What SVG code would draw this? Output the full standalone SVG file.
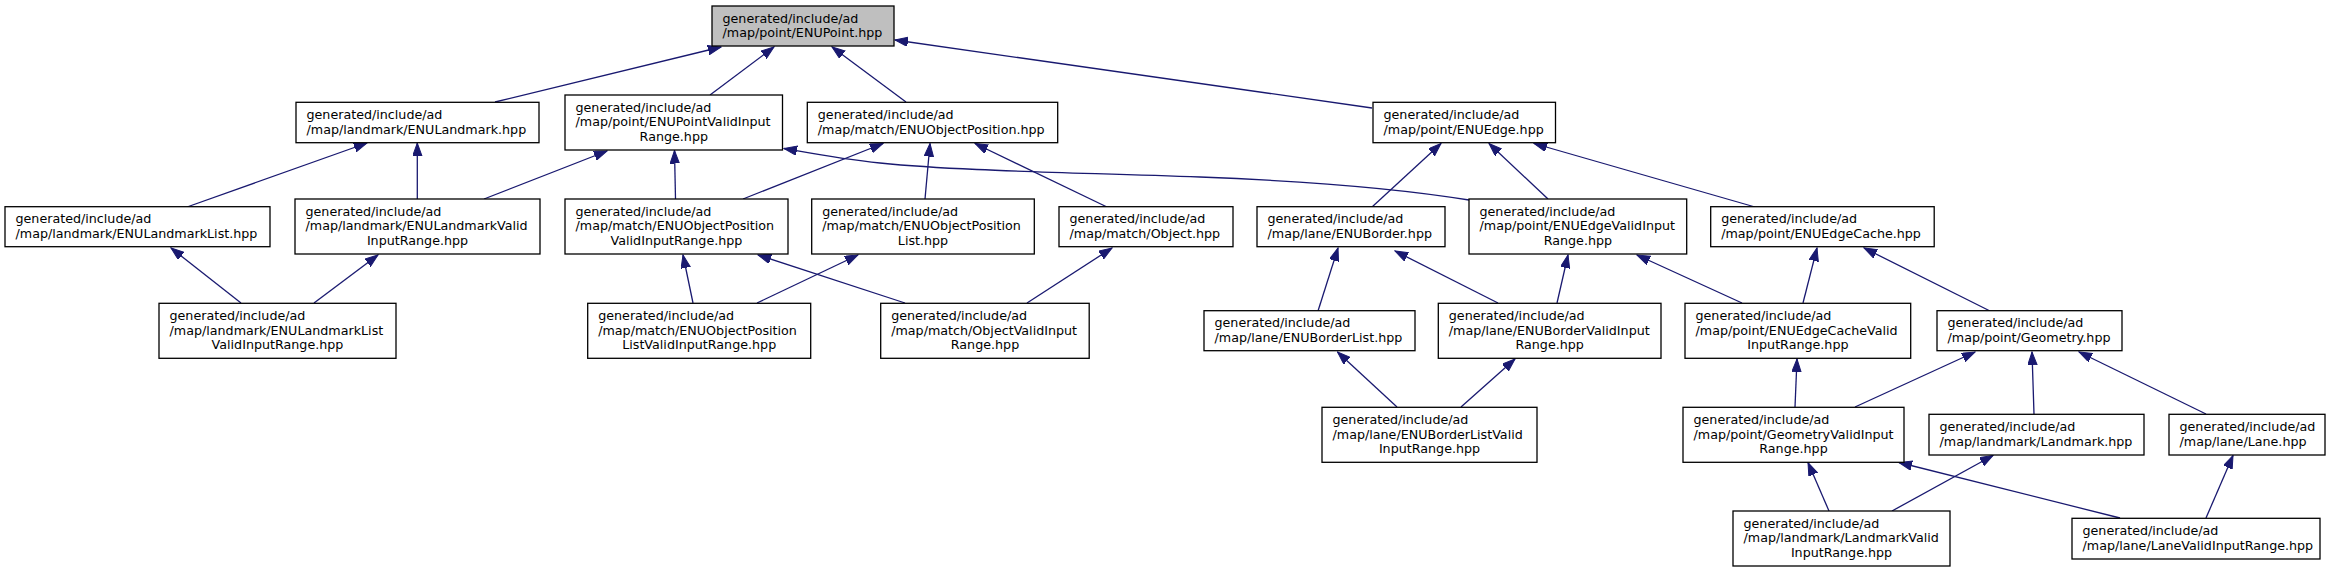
<svg xmlns="http://www.w3.org/2000/svg" width="2331" height="572" viewBox="0 0 2331 572">
<style>
.n rect{fill:#fff;stroke:#000;stroke-width:1.3}
.n.root rect{fill:#bfbfbf}
.n text{font-family:"DejaVu Sans",sans-serif;font-size:12.7px;fill:#000}
.n text.c{text-anchor:middle}
.e path{fill:none;stroke:#191970;stroke-width:1.3;marker-end:url(#ah)}
</style>
<defs>
<marker id="ah" markerUnits="userSpaceOnUse" markerWidth="14" markerHeight="10" refX="13" refY="4.7" orient="auto">
<path d="M0,0 L13,4.7 L0,9.4 z" fill="#191970" stroke="#191970" stroke-width="1"/>
</marker>
</defs>
<rect width="2331" height="572" fill="#fff"/>
<g id="edges" class="e">
<path d="M495,102 L721,47"/>
<path d="M710,95 L774,47"/>
<path d="M906,102 L832,47"/>
<path d="M1372,108 L895,40"/>
<path d="M187,207 L367,143"/>
<path d="M417.3,199 L417.3,143"/>
<path d="M484,199 L607,151"/>
<path d="M675.5,199 L674.5,150.5"/>
<path d="M743,199 L883,143.5"/>
<path d="M925,199 L930,143.5"/>
<path d="M1107,207 L975,143.5"/>
<path d="M1469,200 C1420,192 1330,182 1200,177 C1060,172 960,171 880,163 C840,159 810,153 784,148.5"/>
<path d="M1372,207 L1441,143.5"/>
<path d="M1548,199 L1489,143.5"/>
<path d="M1755,207 L1534,143.5"/>
<path d="M241,303 L171,248"/>
<path d="M314,303 L378,255"/>
<path d="M693,303 L683,255"/>
<path d="M757,303 L858,255"/>
<path d="M905,303 L758,255"/>
<path d="M1027,303 L1112,248"/>
<path d="M1318,311 L1338,248"/>
<path d="M1498,303 L1395,251"/>
<path d="M1557,303 L1568,255"/>
<path d="M1742,303 L1637,255"/>
<path d="M1803,303 L1817,248"/>
<path d="M1990,311 L1864,248"/>
<path d="M1397,407 L1337.5,352"/>
<path d="M1461,407 L1515,359"/>
<path d="M1795,407 L1797,359"/>
<path d="M1855,407 L1975,352"/>
<path d="M2034,414 L2032,352"/>
<path d="M2206,414 L2079,352"/>
<path d="M1829,511 L1808,462.5"/>
<path d="M1892,511 L1993,455.5"/>
<path d="M2120,518 L1899,462.5"/>
<path d="M2206,518 L2233,455.5"/>
</g>
<g id="n1" class="n root"><rect x="712" y="6" width="182" height="40"/><text x="722.5" y="22.7">generated/include/ad</text><text x="722.5" y="37.3">/map/point/ENUPoint.hpp</text></g>
<g id="n2" class="n"><rect x="296" y="102.3" width="243" height="40.4"/><text x="306.5" y="119">generated/include/ad</text><text x="306.5" y="133.6">/map/landmark/ENULandmark.hpp</text></g>
<g id="n3" class="n"><rect x="565" y="95" width="217.5" height="55"/><text x="575.5" y="111.7">generated/include/ad</text><text x="575.5" y="126.3">/map/point/ENUPointValidInput</text><text class="c" x="673.8" y="140.9">Range.hpp</text></g>
<g id="n4" class="n"><rect x="807.3" y="102.3" width="250.4" height="40.4"/><text x="817.8" y="119">generated/include/ad</text><text x="817.8" y="133.6">/map/match/ENUObjectPosition.hpp</text></g>
<g id="n5" class="n"><rect x="1373" y="102.3" width="182.5" height="40.4"/><text x="1383.5" y="119">generated/include/ad</text><text x="1383.5" y="133.6">/map/point/ENUEdge.hpp</text></g>
<g id="n6" class="n"><rect x="5" y="206.7" width="265" height="40"/><text x="15.5" y="223.4">generated/include/ad</text><text x="15.5" y="238">/map/landmark/ENULandmarkList.hpp</text></g>
<g id="n7" class="n"><rect x="295" y="199" width="245" height="55"/><text x="305.5" y="215.7">generated/include/ad</text><text x="305.5" y="230.3">/map/landmark/ENULandmarkValid</text><text class="c" x="417.5" y="244.9">InputRange.hpp</text></g>
<g id="n8" class="n"><rect x="565" y="199" width="223" height="55"/><text x="575.5" y="215.7">generated/include/ad</text><text x="575.5" y="230.3">/map/match/ENUObjectPosition</text><text class="c" x="676.5" y="244.9">ValidInputRange.hpp</text></g>
<g id="n9" class="n"><rect x="811.7" y="199" width="222.6" height="55"/><text x="822.2" y="215.7">generated/include/ad</text><text x="822.2" y="230.3">/map/match/ENUObjectPosition</text><text class="c" x="923" y="244.9">List.hpp</text></g>
<g id="n10" class="n"><rect x="1059" y="206.7" width="174" height="40"/><text x="1069.5" y="223.4">generated/include/ad</text><text x="1069.5" y="238">/map/match/Object.hpp</text></g>
<g id="n11" class="n"><rect x="1257" y="206.7" width="188" height="40"/><text x="1267.5" y="223.4">generated/include/ad</text><text x="1267.5" y="238">/map/lane/ENUBorder.hpp</text></g>
<g id="n12" class="n"><rect x="1469" y="199" width="217.7" height="55"/><text x="1479.5" y="215.7">generated/include/ad</text><text x="1479.5" y="230.3">/map/point/ENUEdgeValidInput</text><text class="c" x="1577.9" y="244.9">Range.hpp</text></g>
<g id="n13" class="n"><rect x="1710.7" y="206.7" width="223.5" height="40"/><text x="1721.2" y="223.4">generated/include/ad</text><text x="1721.2" y="238">/map/point/ENUEdgeCache.hpp</text></g>
<g id="n14" class="n"><rect x="159" y="303.3" width="237" height="55"/><text x="169.5" y="320">generated/include/ad</text><text x="169.5" y="334.6">/map/landmark/ENULandmarkList</text><text class="c" x="277.5" y="349.2">ValidInputRange.hpp</text></g>
<g id="n15" class="n"><rect x="587.7" y="303.3" width="223" height="55"/><text x="598.2" y="320">generated/include/ad</text><text x="598.2" y="334.6">/map/match/ENUObjectPosition</text><text class="c" x="699.2" y="349.2">ListValidInputRange.hpp</text></g>
<g id="n16" class="n"><rect x="880.7" y="303.3" width="208.5" height="55"/><text x="891.2" y="320">generated/include/ad</text><text x="891.2" y="334.6">/map/match/ObjectValidInput</text><text class="c" x="985" y="349.2">Range.hpp</text></g>
<g id="n17" class="n"><rect x="1204" y="310.7" width="211" height="40"/><text x="1214.5" y="327.4">generated/include/ad</text><text x="1214.5" y="342">/map/lane/ENUBorderList.hpp</text></g>
<g id="n18" class="n"><rect x="1438.3" y="303.3" width="222.7" height="55"/><text x="1448.8" y="320">generated/include/ad</text><text x="1448.8" y="334.6">/map/lane/ENUBorderValidInput</text><text class="c" x="1549.7" y="349.2">Range.hpp</text></g>
<g id="n19" class="n"><rect x="1685" y="303.3" width="225.7" height="55"/><text x="1695.5" y="320">generated/include/ad</text><text x="1695.5" y="334.6">/map/point/ENUEdgeCacheValid</text><text class="c" x="1797.9" y="349.2">InputRange.hpp</text></g>
<g id="n20" class="n"><rect x="1937" y="310.7" width="185" height="40"/><text x="1947.5" y="327.4">generated/include/ad</text><text x="1947.5" y="342">/map/point/Geometry.hpp</text></g>
<g id="n21" class="n"><rect x="1322" y="407.3" width="215" height="55"/><text x="1332.5" y="424">generated/include/ad</text><text x="1332.5" y="438.6">/map/lane/ENUBorderListValid</text><text class="c" x="1429.5" y="453.2">InputRange.hpp</text></g>
<g id="n22" class="n"><rect x="1683" y="407.3" width="221" height="55"/><text x="1693.5" y="424">generated/include/ad</text><text x="1693.5" y="438.6">/map/point/GeometryValidInput</text><text class="c" x="1793.5" y="453.2">Range.hpp</text></g>
<g id="n23" class="n"><rect x="1929" y="414.3" width="215" height="40.7"/><text x="1939.5" y="431">generated/include/ad</text><text x="1939.5" y="445.6">/map/landmark/Landmark.hpp</text></g>
<g id="n24" class="n"><rect x="2169" y="414.3" width="156" height="40.7"/><text x="2179.5" y="431">generated/include/ad</text><text x="2179.5" y="445.6">/map/lane/Lane.hpp</text></g>
<g id="n25" class="n"><rect x="1733" y="511" width="217" height="55"/><text x="1743.5" y="527.7">generated/include/ad</text><text x="1743.5" y="542.3">/map/landmark/LandmarkValid</text><text class="c" x="1841.5" y="556.9">InputRange.hpp</text></g>
<g id="n26" class="n"><rect x="2072" y="518.3" width="248" height="40.7"/><text x="2082.5" y="535">generated/include/ad</text><text x="2082.5" y="549.6">/map/lane/LaneValidInputRange.hpp</text></g>
</svg>
